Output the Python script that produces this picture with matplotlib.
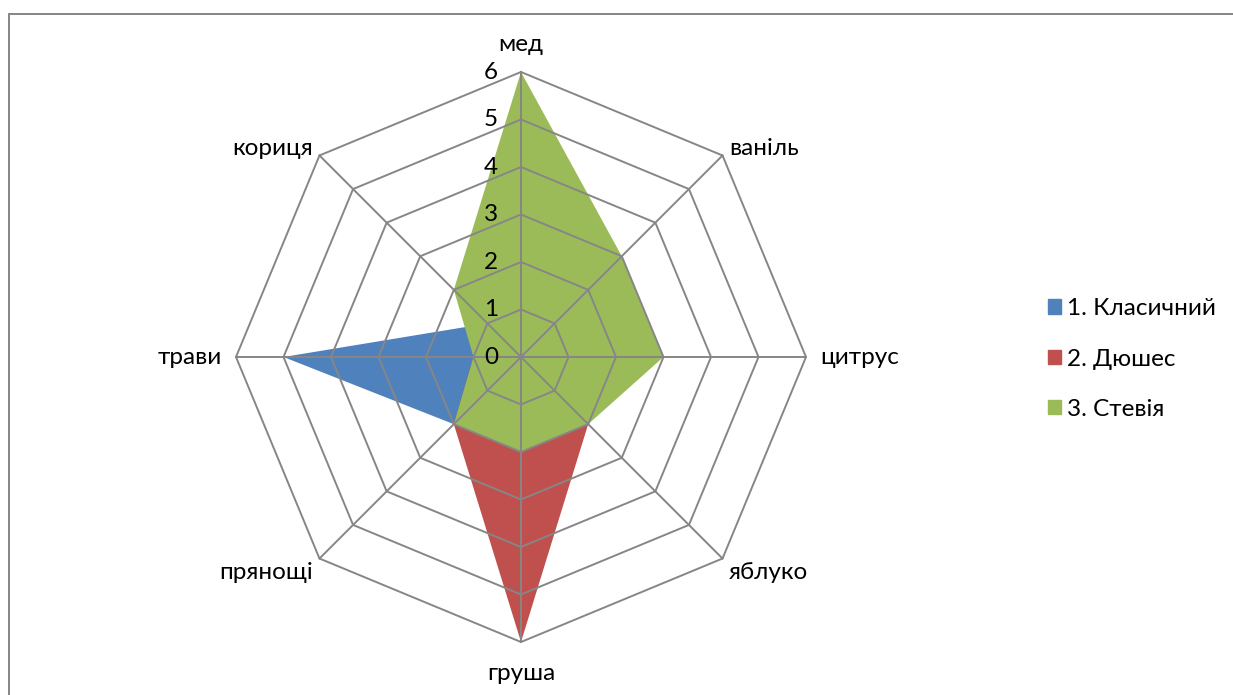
import numpy as np
import matplotlib.pyplot as plt
from matplotlib.patches import Patch, Rectangle

plt.rcParams['font.family'] = ['Lato', 'DejaVu Sans']

# categories clockwise from the top
categories = ['мед', 'ваніль', 'цитрус', 'яблуко', 'груша', 'прянощі', 'трави', 'кориця']
series_names = ['1. Класичний', '2. Дюшес', '3. Стевія']
klasychnyi = [1, 1, 1, 1, 1, 2, 5, 1]
diushes = [1, 1, 1, 2, 6, 2, 1, 1]
steviia = [6, 3, 3, 2, 2, 2, 1, 2]
ticks = [0, 1, 2, 3, 4, 5, 6]
colors = ['#4F81BD', '#C0504D', '#9BBB59']
GRID = '#868686'
FS = 17.5

W, H = 1233, 695
fig = plt.figure(figsize=(W / 100, H / 100), dpi=100)

# centre of the radar at (521, 357) px, 6 units = 285 px
cx, cy, half = 521, H - 357, 300
ax = fig.add_axes([(cx - half) / W, (cy - half) / H, 2 * half / W, 2 * half / H])
lim = 6 * half / 285
ax.set_xlim(-lim, lim)
ax.set_ylim(-lim, lim)
ax.set_aspect('equal')
ax.axis('off')

n = len(categories)
ang = np.deg2rad(90 - 45 * np.arange(n))
cs, sn = np.cos(ang), np.sin(ang)

def poly(vals):
    v = np.asarray(vals, float)
    return np.append(v * cs, v[0] * cs[0]), np.append(v * sn, v[0] * sn[0])

for vals, col in zip([klasychnyi, diushes, steviia], colors):
    x, y = poly(vals)
    ax.fill(x, y, color=col, lw=0, zorder=2)

# octagon rings and spokes
for t in ticks[1:]:
    x, y = poly([t] * n)
    ax.plot(x, y, color=GRID, lw=1.4, zorder=3)
for c, s in zip(cs, sn):
    ax.plot([0, 6 * c], [0, 6 * s], color=GRID, lw=1.4, zorder=3)

for t in ticks:
    ax.text(-0.48, t, str(t), ha='right', va='center', fontsize=FS, zorder=4)

for lab, c, s in zip(categories, cs, sn):
    ha = 'center' if abs(c) < 0.1 else ('left' if c > 0 else 'right')
    if abs(c) < 0.1:
        va = 'bottom' if s > 0 else 'top'
        r = 6.35 if s > 0 else 6.45
    else:
        va = 'center'
        r = 6.2 if abs(s) > 0.1 else 6.3
    yoff = -0.15 if (s < -0.1 and abs(c) > 0.1) else 0
    ax.text(r * c, r * s + yoff, lab, ha=ha, va=va, fontsize=FS, clip_on=False)

handles = [Patch(color=c) for c in colors]
fig.legend(handles, series_names, loc='center left',
           bbox_to_anchor=(1026 / W, (H - 359) / H), frameon=False,
           fontsize=FS, handlelength=0.55, handleheight=0.55, handletextpad=0.25,
           labelspacing=1.2)

# outer chart border (only top and left edges visible)
fig.patches.append(Rectangle((9 / W, -0.1), 2, (H - 14) / H + 0.1,
                             transform=fig.transFigure, fill=False,
                             edgecolor=GRID, lw=1.4))

fig.savefig('out.png', dpi=100)
